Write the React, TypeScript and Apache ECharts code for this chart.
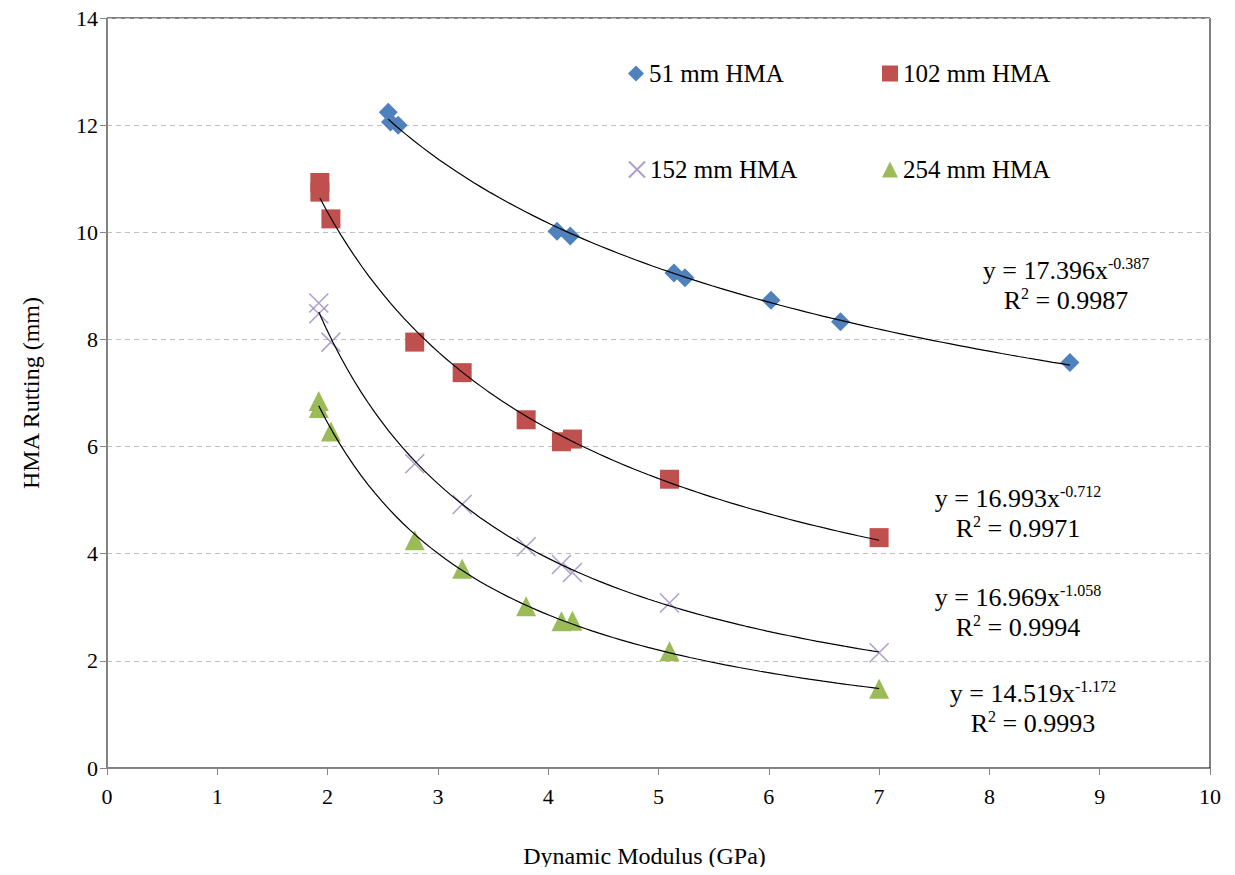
import React, { useEffect, useRef } from "react";
import * as echarts from "echarts";

const FONT = "serif";

const seriesNames = ["51 mm HMA", "102 mm HMA", "152 mm HMA", "254 mm HMA"];

const hma51: [number, number][] = [
  [2.55, 12.24], [2.57, 12.06], [2.64, 12.0], [4.08, 10.02], [4.2, 9.93],
  [5.14, 9.24], [5.24, 9.15], [6.02, 8.73], [6.65, 8.33], [8.73, 7.57],
];
const hma102: [number, number][] = [
  [1.93, 10.93], [1.93, 10.75], [2.03, 10.25], [2.79, 7.95], [3.22, 7.38],
  [3.8, 6.5], [4.12, 6.09], [4.22, 6.14], [5.1, 5.39], [7.0, 4.3],
];
const hma152: [number, number][] = [
  [1.92, 8.68], [1.92, 8.48], [2.03, 7.95], [2.79, 5.68], [3.22, 4.92],
  [3.8, 4.13], [4.12, 3.8], [4.22, 3.65], [5.1, 3.08], [7.0, 2.15],
];
const hma254: [number, number][] = [
  [1.92, 6.85], [1.92, 6.72], [2.03, 6.28], [2.79, 4.25], [3.22, 3.72],
  [3.8, 3.02], [4.12, 2.74], [4.22, 2.75], [5.1, 2.18], [7.0, 1.48],
];

// Power trendlines y = a * x^b as printed on the chart, over each series' x range
const trendA = [17.396, 16.993, 16.969, 14.519];
const trendB = [-0.387, -0.712, -1.058, -1.172];
const trendR2 = ["0.9987", "0.9971", "0.9994", "0.9993"];

const xTicks = { min: 0, max: 10, interval: 1 };
const yTicks = { min: 0, max: 14, interval: 2 };

const colors = ["#4f81bd", "#c0504d", "#9a86c0", "#9bbb59"];

function trendPoints(a: number, b: number, pts: [number, number][]) {
  const xs = pts.map((p) => p[0]);
  const lo = Math.min(...xs);
  const hi = Math.max(...xs);
  const n = 80;
  const out: [number, number][] = [];
  for (let i = 0; i <= n; i++) {
    const x = lo + ((hi - lo) * i) / n;
    out.push([x, a * Math.pow(x, b)]);
  }
  return out;
}

export default function App() {
  const ref = useRef<HTMLDivElement>(null);
  useEffect(() => {
    if (!ref.current) return;
    const chart = echarts.init(ref.current, undefined, { renderer: "svg" });
    const data = [hma51, hma102, hma152, hma254];
    const symbols = [
      "diamond",
      "rect",
      "path://M0,0L10,10M10,0L0,10",
      "triangle",
    ];
    const sizes = [19, 19, 19, 20];
    const scatter = data.map((d, i) => ({
      type: "scatter",
      name: seriesNames[i],
      data: d,
      symbol: symbols[i],
      symbolSize: sizes[i],
      z: 2,
      itemStyle:
        i === 2
          ? { color: "rgba(0,0,0,0)", borderColor: colors[2], borderWidth: 1.5 }
          : { color: colors[i], opacity: 1 },
    }));
    const trends = data.map((d, i) => ({
      type: "line",
      name: "trend" + i,
      data: trendPoints(trendA[i], trendB[i], d),
      showSymbol: false,
      symbol: "none",
      smooth: false,
      z: 5,
      lineStyle: { color: "#000", width: 1.2 },
      silent: true,
    }));
    const legendPos = [
      [623, 56],
      [877, 56],
      [623, 152],
      [877, 152],
    ];
    const legends = seriesNames.map((n, i) => ({
      data: [n],
      left: legendPos[i][0],
      top: legendPos[i][1],
      itemWidth: 16,
      itemHeight: 16,
      textStyle: { fontFamily: FONT, fontSize: 25, color: "#000" },
      selectedMode: false,
    }));
    const eqPos = [
      [1066, 285],
      [1018, 513],
      [1018, 612],
      [1033, 708],
    ];
    const eqs = eqPos.map((p, i) => ({
      type: "text",
      x: p[0],
      y: p[1],
      z: 10,
      style: {
        text:
          "{a|y = " + trendA[i].toFixed(3) + "x}{b|" + trendB[i].toFixed(3) + "}\n{a|R}{b|2}{a| = " + trendR2[i] + "}",
        align: "center",
        verticalAlign: "middle",
        fill: "#000",
        fontFamily: FONT,
        rich: {
          a: { fontFamily: FONT, fontSize: 26, lineHeight: 30, fill: "#000" },
          b: { fontFamily: FONT, fontSize: 16, verticalAlign: "top", fill: "#000" },
        },
      },
    }));
    chart.setOption({
      animation: false,
      backgroundColor: "#fff",
      textStyle: { fontFamily: FONT },
      grid: {
        left: 107,
        right: 25,
        top: 18,
        bottom: 107,
        show: true,
        borderColor: "#000",
        borderWidth: 1,
        containLabel: false,
      },
      legend: legends,
      xAxis: {
        type: "value",
        min: xTicks.min,
        max: xTicks.max,
        interval: xTicks.interval,
        name: "Dynamic Modulus (GPa)",
        nameLocation: "middle",
        nameGap: 76,
        nameTextStyle: { fontFamily: FONT, fontSize: 24, color: "#000", padding: [0, 28, 0, 0] },
        axisLine: { show: true, lineStyle: { color: "#868686", width: 1 } },
        axisTick: { show: true, inside: false, length: 7, lineStyle: { color: "#868686" } },
        axisLabel: { fontFamily: FONT, fontSize: 22, color: "#000", margin: 17 },
        splitLine: { show: false },
      },
      yAxis: {
        type: "value",
        min: yTicks.min,
        max: yTicks.max,
        interval: yTicks.interval,
        name: "HMA Rutting (mm)",
        nameLocation: "middle",
        nameGap: 64,
        nameRotate: 90,
        nameTextStyle: { fontFamily: FONT, fontSize: 24, color: "#000" },
        axisLine: { show: true, lineStyle: { color: "#868686", width: 1 } },
        axisTick: { show: true, inside: false, length: 7, lineStyle: { color: "#868686" } },
        axisLabel: { fontFamily: FONT, fontSize: 22, color: "#000", margin: 9 },
        splitLine: { show: true, lineStyle: { color: "#bfbfbf", type: [5, 4], width: 1 } },
      },
      series: [...scatter, ...trends],
      graphic: eqs,
    });
    return () => chart.dispose();
  }, []);
  return <div ref={ref} style={{ width: 1235, height: 875, margin: -8 }} />;
}
